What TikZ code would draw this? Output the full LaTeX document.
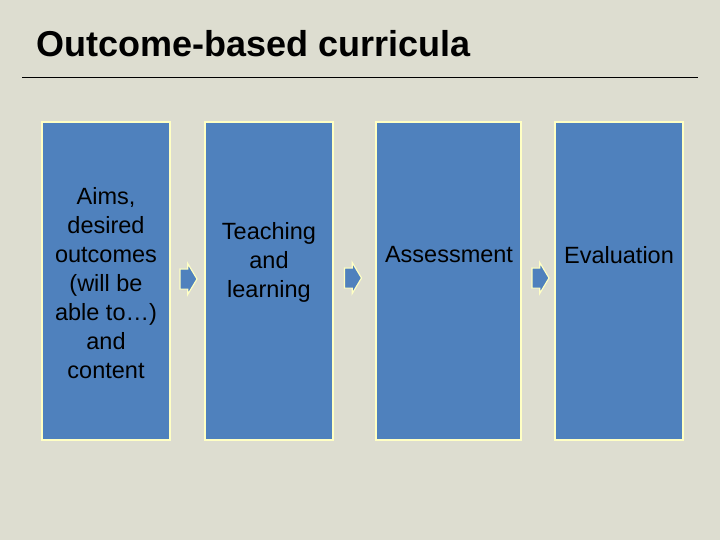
\documentclass[tikz,border=0pt]{standalone}
\usepackage{fontspec}
\setmainfont{Liberation Sans}
\usepackage{xcolor}
\usetikzlibrary{shapes.arrows}

\definecolor{slidebg}{HTML}{DDDDD0}
\definecolor{boxblue}{HTML}{4F81BD}
\definecolor{edgeyellow}{HTML}{FFFFC4}

\tikzset{
  stage/.style={draw=edgeyellow, line width=2.2pt, fill=boxblue,
    minimum width=128pt, minimum height=318pt, inner sep=0pt},
  stagetext/.style={align=center, inner sep=0pt,
    font=\fontsize{23.5}{29}\selectfont},
  flowarrow/.style={single arrow, draw=edgeyellow, line width=1.2pt, fill=boxblue,
    minimum height=17pt, inner xsep=0pt, inner ysep=9.5pt,
    single arrow head extend=5.5pt, single arrow tip angle=118}
}

\begin{document}
\begin{tikzpicture}[x=1pt,y=-1pt]
        % Slide background
        \fill[slidebg] (0,0) rectangle (720,540);
        \useasboundingbox (0,0) rectangle (720,540);
        % Title and rule
        \node[anchor=base west, inner sep=0pt, font=\fontsize{36}{42}\bfseries\selectfont] (title) at (36,57) {Outcome-based curricula};
        \coordinate (ruleL) at (22,78);
        \coordinate (ruleR) at (698,78);
        \draw[line width=1pt] (ruleL) -- (ruleR);
        % Stages
        \node[stage] (aims) at (106,281) {};
        \node[stage] (teach) at (269,281) {};
        \node[stage, minimum width=145pt] (assess) at (448.5,281) {};
        \node[stage] (eval) at (619,281) {};
        \node[stagetext] (aimstxt) at (106,283) {Aims,\\desired\\outcomes\\(will be\\able to\dots)\\and\\content};
        \node[stagetext] (teachtxt) at (269,262) {Teaching\\and\\learning};
        \node[stagetext] (assesstxt) at (449,255) {Assessment};
        \node[stagetext] (evaltxt) at (619,255) {Evaluation};
        % Block arrows between stages
        \node[flowarrow] (arrA) at (185.5,279) {};
        \node[flowarrow] (arrB) at (350,278) {};
        \node[flowarrow] (arrC) at (537.5,278) {};
    \end{tikzpicture}
\end{document}
